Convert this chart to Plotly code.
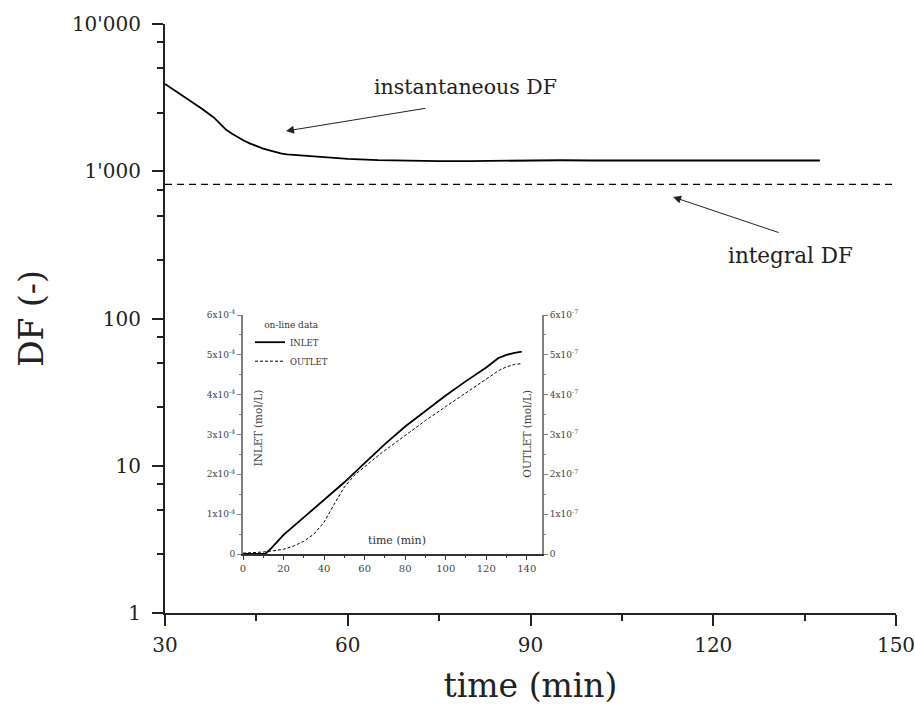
import plotly.graph_objects as go

# ---------------- data ----------------
# main chart: decontamination factor vs time
df_time = [30, 32, 34, 36, 38, 39, 40, 41, 42, 43, 44, 45, 46, 47, 48, 49, 50, 52, 56, 60, 65, 70, 75, 80,
           85, 90, 95, 100, 110, 120, 130, 137.5]
df_inst = [3920, 3450, 3040, 2670, 2320, 2120, 1920, 1800, 1700, 1610, 1540, 1480, 1432, 1390, 1352, 1322,
           1300, 1280, 1248, 1215, 1190, 1178, 1172, 1172, 1178, 1190, 1188, 1183, 1180, 1180, 1182, 1183]
integral_time = [30, 150]
integral_df = [815, 815]

y_tickvals = [1, 10, 100, 1000, 10000]
y_ticktext = ["1", "10", "100", "1'000", "10'000"]
y_minor = [m * d for d in [1, 10, 100, 1000] for m in (2.5, 5, 7.5)]
x_tickvals = [30, 60, 90, 120, 150]
x_minor = [45, 75, 105, 135]

# inset: on-line data
inlet_time = [0, 5, 11, 14, 20, 30, 40, 50, 60, 70, 80, 90, 100, 110, 120, 126, 130, 134, 137.5]
inlet_val = [0, 0, 0, 0.15e-4, 0.48e-4, 0.92e-4, 1.36e-4, 1.80e-4, 2.28e-4, 2.76e-4, 3.20e-4, 3.60e-4,
             3.98e-4, 4.34e-4, 4.68e-4, 4.92e-4, 5.00e-4, 5.05e-4, 5.08e-4]
outlet_time = [0, 5, 10, 15, 20, 25, 30, 35, 40, 45, 50, 55, 60, 65, 70, 80, 90, 100, 110, 120, 126, 130, 134, 137.5]
outlet_val = [0.02e-7, 0.03e-7, 0.05e-7, 0.08e-7, 0.12e-7, 0.2e-7, 0.32e-7, 0.5e-7, 0.8e-7, 1.25e-7, 1.68e-7,
              1.98e-7, 2.2e-7, 2.4e-7, 2.6e-7, 2.98e-7, 3.35e-7, 3.7e-7, 4.05e-7, 4.4e-7, 4.6e-7, 4.7e-7,
              4.76e-7, 4.78e-7]

inset_x_ticks = [0, 20, 40, 60, 80, 100, 120, 140]
inlet_ticks = [0, 1e-4, 2e-4, 3e-4, 4e-4, 5e-4, 6e-4]
inlet_ticktext = ["0"] + [f"{i}x10<sup>-4</sup>" for i in range(1, 7)]
outlet_ticks = [0, 1e-7, 2e-7, 3e-7, 4e-7, 5e-7, 6e-7]
outlet_ticktext = ["0"] + [f"{i}x10<sup>-7</sup>" for i in range(1, 7)]

FONT = "DejaVu Serif"
AX = "#222222"
GREY = "#808080"

fig = go.Figure()

fig.add_trace(go.Scatter(x=df_time, y=df_inst, mode="lines", line=dict(color="black", width=1.8),
                         showlegend=False, name="instantaneous DF"))
fig.add_trace(go.Scatter(x=integral_time, y=integral_df, mode="lines",
                         line=dict(color="black", width=1.4, dash="7px,5px"), showlegend=False, name="integral DF"))

fig.add_trace(go.Scatter(x=inlet_time, y=inlet_val, mode="lines", line=dict(color="black", width=1.8),
                         xaxis="x2", yaxis="y2", name="INLET"))
fig.add_trace(go.Scatter(x=outlet_time, y=outlet_val, mode="lines", line=dict(color="black", width=1, dash="3px,2px"),
                         xaxis="x2", yaxis="y3", name="OUTLET"))

def px2paper_x(px):
    return (px - 165) / 731

def px2paper_y(py):
    return (613 - py) / 589

fig.update_layout(
    width=915, height=706,
    margin=dict(l=165, r=19, t=24, b=93),
    paper_bgcolor="white", plot_bgcolor="white",
    font=dict(family=FONT, color="#222"),
    xaxis=dict(range=[30, 150], tickvals=x_tickvals, ticks="outside", ticklen=11, tickwidth=2, tickcolor=AX,
               showline=True, linecolor=AX, linewidth=2, showgrid=False, zeroline=False, automargin=False,
               ticklabeloverflow="allow", ticklabelstandoff=2,
               tickfont=dict(size=20, family=FONT), title=dict(text="time (min)", font=dict(size=33), standoff=18),
               minor=dict(tickvals=x_minor, ticks="outside", ticklen=6, tickwidth=2, tickcolor=AX)),
    yaxis=dict(type="log", range=[0, 4], tickvals=y_tickvals, ticktext=y_ticktext, ticks="outside", ticklen=11,
               tickwidth=2, tickcolor=AX, showline=True, linecolor=AX, linewidth=2, showgrid=False, zeroline=False,
               automargin=False, ticklabelstandoff=7, ticklabeloverflow="allow",
               tickfont=dict(size=20, family=FONT), title=dict(text="DF (-)", font=dict(size=33), standoff=18),
               minor=dict(tickvals=y_minor, ticks="outside", ticklen=6, tickwidth=2, tickcolor=AX)),
    xaxis2=dict(domain=[px2paper_x(243), px2paper_x(542)], anchor="y2", range=[0, 147.5], tickvals=inset_x_ticks,
                ticks="outside", ticklen=4, tickwidth=1, tickcolor="#333", showline=True, linecolor="#333",
                linewidth=1.5, showgrid=False, zeroline=False, automargin=False, ticklabelstandoff=0,
                tickfont=dict(size=10, color="#444"),
                minor=dict(dtick=10, ticks="outside", ticklen=2, tickcolor="#333")),
    yaxis2=dict(domain=[px2paper_y(554), px2paper_y(315)], anchor="x2", range=[0, 6e-4], tickvals=inlet_ticks,
                ticktext=inlet_ticktext, ticks="outside", ticklen=4, tickwidth=1, tickcolor=GREY, showline=True,
                linecolor=GREY, linewidth=2, showgrid=False, zeroline=False, automargin=False,
                tickfont=dict(size=9, color="#444"),
                minor=dict(dtick=0.5e-4, ticks="outside", ticklen=2, tickcolor=GREY)),
    yaxis3=dict(overlaying="y2", side="right", anchor="x2", range=[0, 6e-7], tickvals=outlet_ticks,
                ticktext=outlet_ticktext, ticks="outside", ticklen=4, tickwidth=1, tickcolor=GREY, showline=True,
                linecolor=GREY, linewidth=2, showgrid=False, zeroline=False, automargin=False,
                tickfont=dict(size=9, color="#444"),
                minor=dict(dtick=0.5e-7, ticks="outside", ticklen=2, tickcolor=GREY)),
    legend=dict(x=px2paper_x(250), y=px2paper_y(316), xanchor="left", yanchor="top", bgcolor="rgba(0,0,0,0)",
                font=dict(size=8.5, color="#333"), title=dict(text="on-line data", side="top center",
                                                              font=dict(size=9, color="#333")),
                itemwidth=30, tracegroupgap=0),
    annotations=[
        dict(x=49.86, y=3.273, xref="x", yref="y", ax=141, ay=-23, axref="pixel", ayref="pixel", text="",
             showarrow=True, arrowhead=2, arrowsize=1.6, arrowwidth=1, arrowcolor="#222"),
        dict(x=79.4, y=3.572, xref="x", yref="y", text="instantaneous DF", showarrow=False,
             font=dict(size=20.5, family=FONT, color="#222")),
        dict(x=113.4, y=2.825, xref="x", yref="y", ax=107, ay=36, axref="pixel", ayref="pixel", text="",
             showarrow=True, arrowhead=2, arrowsize=1.6, arrowwidth=1, arrowcolor="#222"),
        dict(x=132.6, y=2.431, xref="x", yref="y", text="integral DF", showarrow=False,
             font=dict(size=21.5, family=FONT, color="#222")),
        dict(x=7.5, y=3.16e-4, xref="x2", yref="y2", text="INLET (mol/L)", textangle=-90, showarrow=False,
             font=dict(size=10.5, family=FONT, color="#444")),
        dict(x=140.3, y=3.03e-4, xref="x2", yref="y2", text="OUTLET (mol/L)", textangle=-90, showarrow=False,
             font=dict(size=10.5, family=FONT, color="#444")),
        dict(x=75.9, y=0.35e-4, xref="x2", yref="y2", text="time (min)", showarrow=False,
             font=dict(size=11, family=FONT, color="#333")),
    ],
)

fig.write_html("out.html")
